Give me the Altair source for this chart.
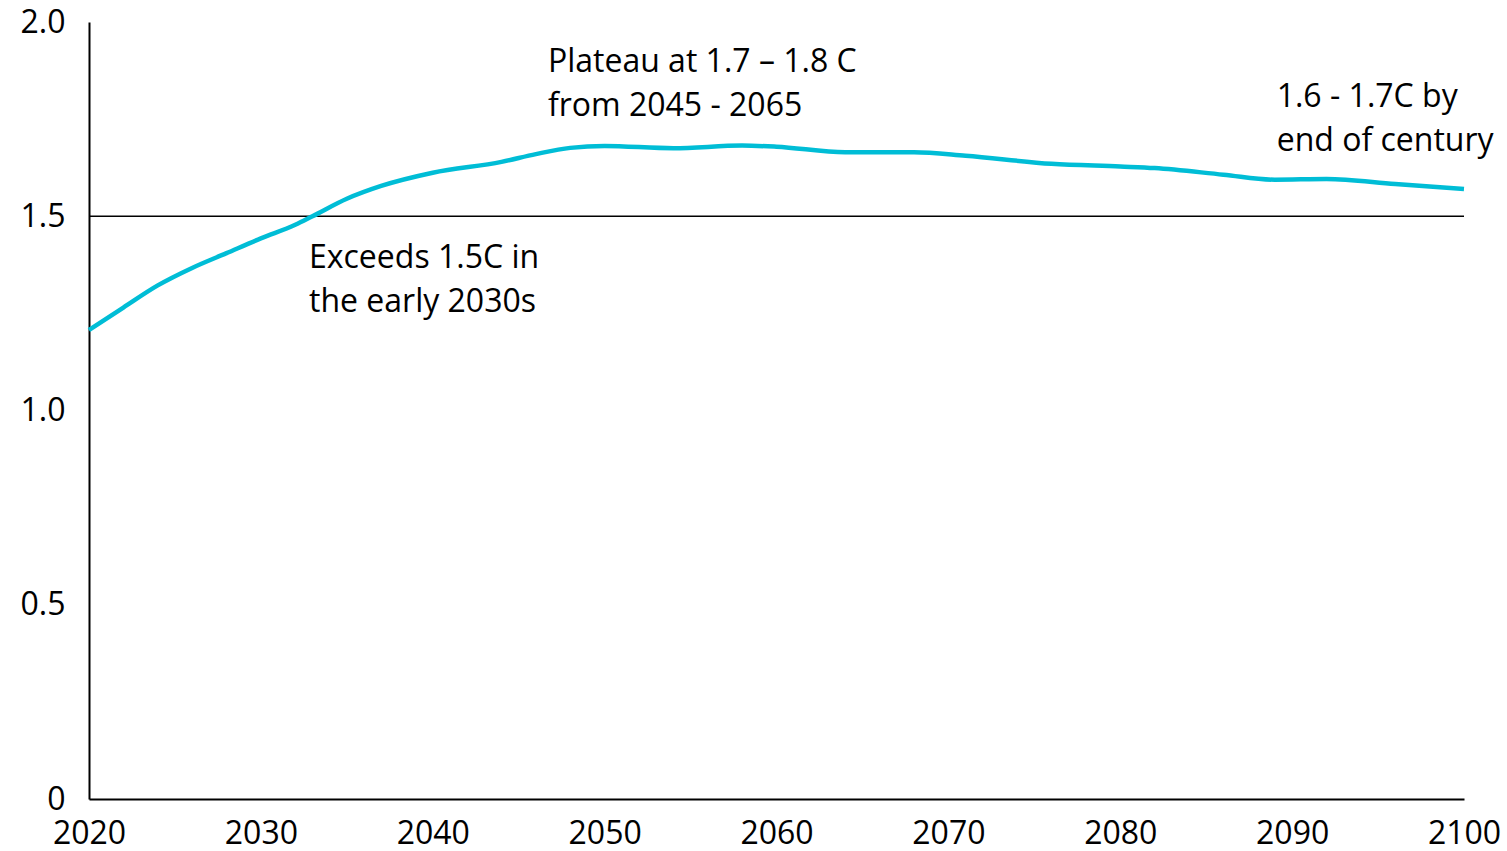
import altair as alt
import pandas as pd

years = [2020, 2022, 2024, 2026, 2028, 2030, 2032, 2033, 2035, 2037, 2040, 2044,
         2046, 2048, 2050, 2054, 2058, 2060, 2064, 2068, 2071, 2076, 2080, 2082,
         2086, 2089, 2092, 2096, 2100]
temps = [1.207, 1.265, 1.322, 1.367, 1.405, 1.443, 1.478, 1.500, 1.545, 1.578, 1.612, 1.640,
         1.660, 1.676, 1.681, 1.675, 1.682, 1.679, 1.665, 1.665, 1.656, 1.635, 1.628, 1.624,
         1.607, 1.594, 1.596, 1.583, 1.570]

threshold = [1.5]

ann_text = [["Exceeds 1.5C in", "the early 2030s"],
            ["Plateau at 1.7 \u2013 1.8 C", "from 2045 - 2065"],
            ["1.6 - 1.7C by", "end of century"]]
ann_year = [2032.8, 2046.7, 2089.1]
ann_val = [1.367, 1.871, 1.780]

x_ticks = [2020, 2030, 2040, 2050, 2060, 2070, 2080, 2090, 2100]
y_ticks = [0, 0.5, 1.0, 1.5, 2.0]

FONT = "Open Sans"

df = pd.DataFrame({"year": years, "temp": temps})
ann = pd.DataFrame({"year": ann_year, "temp": ann_val, "text": ann_text})
thr = pd.DataFrame({"y": threshold, "x0": [x_ticks[0]], "x1": [x_ticks[-1]]})

xs = alt.Scale(domain=[2020, 2100], nice=False, zero=False)
ys = alt.Scale(domain=[0, 2.0], nice=False)

line = alt.Chart(df).mark_line(color="#00BDD6", strokeWidth=4.5, interpolate="monotone").encode(
    x=alt.X("year:Q", scale=xs, title=None,
            axis=alt.Axis(values=x_ticks, format="d", ticks=False, grid=False, domainColor="black",
                          domainWidth=2, labelFont=FONT, labelFontSize=32, labelColor="black",
                          labelPadding=19, labelFlush=False, labelOverlap=False)),
    y=alt.Y("temp:Q", scale=ys, title=None,
            axis=alt.Axis(values=y_ticks, labelExpr="datum.value == 0 ? '0' : format(datum.value, '.1f')",
                          ticks=False, grid=False, domainColor="black", domainWidth=2,
                          labelFont=FONT, labelFontSize=32, labelColor="black",
                          labelPadding=24, labelFlush=False, labelOverlap=False)),
)

rule = alt.Chart(thr).mark_rule(color="black", strokeWidth=1.5).encode(
    x=alt.X("x0:Q", scale=xs),
    x2="x1:Q",
    y=alt.Y("y:Q", scale=ys),
)

texts = alt.Chart(ann).mark_text(align="left", baseline="alphabetic", font=FONT, fontSize=32,
                                 color="black", lineHeight=44).encode(
    x=alt.X("year:Q", scale=xs),
    y=alt.Y("temp:Q", scale=ys),
    text="text",
)

chart = alt.layer(rule, line, texts).properties(
    width=1375, height=777,
    background="white",
    autosize=alt.AutoSizeParams(type="none"),
    padding={"left": 89, "top": 22, "right": 43, "bottom": 52},
).configure_view(stroke=None)

chart.save("out.html", embed_options={"renderer": "svg", "actions": False})
